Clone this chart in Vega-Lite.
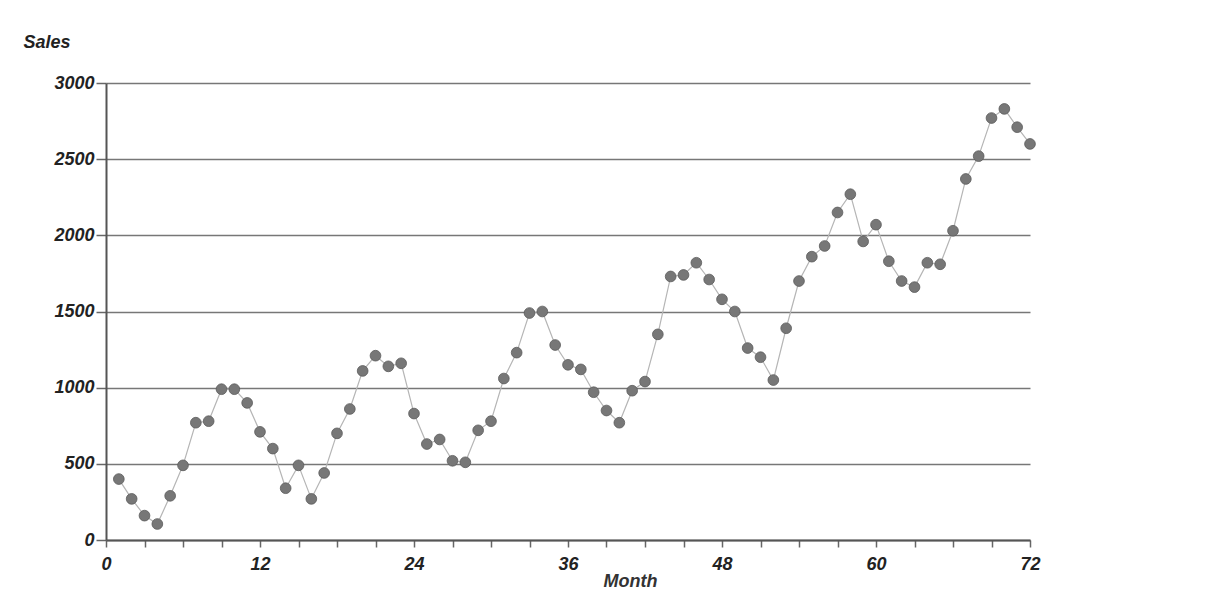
{
  "$schema": "https://vega.github.io/schema/vega-lite/v6.json",
  "autosize": "none",
  "width": 924,
  "height": 457,
  "padding": {"left": 106, "top": 83, "right": 180, "bottom": 68},
  "background": "white",
  "config": {"view": {"stroke": null}, "font": "Liberation Sans"},
  "data": {"values": [
    {"month": 1, "sales": 400}, {"month": 2, "sales": 270}, {"month": 3, "sales": 160}, {"month": 4, "sales": 105},
    {"month": 5, "sales": 290}, {"month": 6, "sales": 490}, {"month": 7, "sales": 770}, {"month": 8, "sales": 780},
    {"month": 9, "sales": 990}, {"month": 10, "sales": 990}, {"month": 11, "sales": 900}, {"month": 12, "sales": 710},
    {"month": 13, "sales": 600}, {"month": 14, "sales": 340}, {"month": 15, "sales": 490}, {"month": 16, "sales": 270},
    {"month": 17, "sales": 440}, {"month": 18, "sales": 700}, {"month": 19, "sales": 860}, {"month": 20, "sales": 1110},
    {"month": 21, "sales": 1210}, {"month": 22, "sales": 1140}, {"month": 23, "sales": 1160}, {"month": 24, "sales": 830},
    {"month": 25, "sales": 630}, {"month": 26, "sales": 660}, {"month": 27, "sales": 520}, {"month": 28, "sales": 510},
    {"month": 29, "sales": 720}, {"month": 30, "sales": 780}, {"month": 31, "sales": 1060}, {"month": 32, "sales": 1230},
    {"month": 33, "sales": 1490}, {"month": 34, "sales": 1500}, {"month": 35, "sales": 1280}, {"month": 36, "sales": 1150},
    {"month": 37, "sales": 1120}, {"month": 38, "sales": 970}, {"month": 39, "sales": 850}, {"month": 40, "sales": 770},
    {"month": 41, "sales": 980}, {"month": 42, "sales": 1040}, {"month": 43, "sales": 1350}, {"month": 44, "sales": 1730},
    {"month": 45, "sales": 1740}, {"month": 46, "sales": 1820}, {"month": 47, "sales": 1710}, {"month": 48, "sales": 1580},
    {"month": 49, "sales": 1500}, {"month": 50, "sales": 1260}, {"month": 51, "sales": 1200}, {"month": 52, "sales": 1050},
    {"month": 53, "sales": 1390}, {"month": 54, "sales": 1700}, {"month": 55, "sales": 1860}, {"month": 56, "sales": 1930},
    {"month": 57, "sales": 2150}, {"month": 58, "sales": 2270}, {"month": 59, "sales": 1960}, {"month": 60, "sales": 2070},
    {"month": 61, "sales": 1830}, {"month": 62, "sales": 1700}, {"month": 63, "sales": 1660}, {"month": 64, "sales": 1820},
    {"month": 65, "sales": 1810}, {"month": 66, "sales": 2030}, {"month": 67, "sales": 2370}, {"month": 68, "sales": 2520},
    {"month": 69, "sales": 2770}, {"month": 70, "sales": 2830}, {"month": 71, "sales": 2710}, {"month": 72, "sales": 2600}
  ]},
  "encoding": {
    "x": {
      "field": "month", "type": "quantitative",
      "scale": {"domain": [0, 72], "nice": false, "zero": true},
      "axis": {
        "title": "Month",
        "values": [0, 3, 6, 9, 12, 15, 18, 21, 24, 27, 30, 33, 36, 39, 42, 45, 48, 51, 54, 57, 60, 63, 66, 69, 72],
        "labelExpr": "datum.value % 12 == 0 ? datum.label : ''",
        "format": "d",
        "grid": false,
        "domainColor": "#555555", "domainWidth": 2,
        "tickColor": "#666666", "tickWidth": 1.5, "tickSize": 7,
        "labelPadding": 8, "labelFont": "Liberation Sans", "labelFontSize": 18,
        "labelFontWeight": "bold", "labelFontStyle": "italic", "labelColor": "#222222",
        "labelFlush": false, "labelOverlap": false,
        "titleFont": "Liberation Sans", "titleFontSize": 18, "titleFontWeight": "bold",
        "titleFontStyle": "italic", "titleColor": "#333333",
        "titleX": 524, "titleY": 41, "titleAlign": "center", "titleBaseline": "middle"
      }
    },
    "y": {
      "field": "sales", "type": "quantitative",
      "scale": {"domain": [0, 3000], "nice": false},
      "axis": {
        "title": "Sales",
        "values": [0, 500, 1000, 1500, 2000, 2500, 3000],
        "format": "d",
        "grid": true, "gridColor": "#777777", "gridWidth": 1.5,
        "domainColor": "#555555", "domainWidth": 2,
        "tickColor": "#666666", "tickWidth": 1.5, "tickSize": 10,
        "labelPadding": 2, "labelFont": "Liberation Sans", "labelFontSize": 18,
        "labelFontWeight": "bold", "labelFontStyle": "italic", "labelColor": "#222222",
        "titleFont": "Liberation Sans", "titleFontSize": 18, "titleFontWeight": "bold",
        "titleFontStyle": "italic", "titleColor": "#222222",
        "titleAngle": 0, "titleX": -83, "titleY": -41, "titleAlign": "left", "titleBaseline": "middle"
      }
    }
  },
  "layer": [
    {"mark": {"type": "line", "color": "#b5b5b5", "strokeWidth": 1.2}},
    {"mark": {"type": "point", "filled": true, "size": 115, "color": "#777777", "opacity": 1, "stroke": "#5a5a5a", "strokeWidth": 0.8}}
  ]
}
